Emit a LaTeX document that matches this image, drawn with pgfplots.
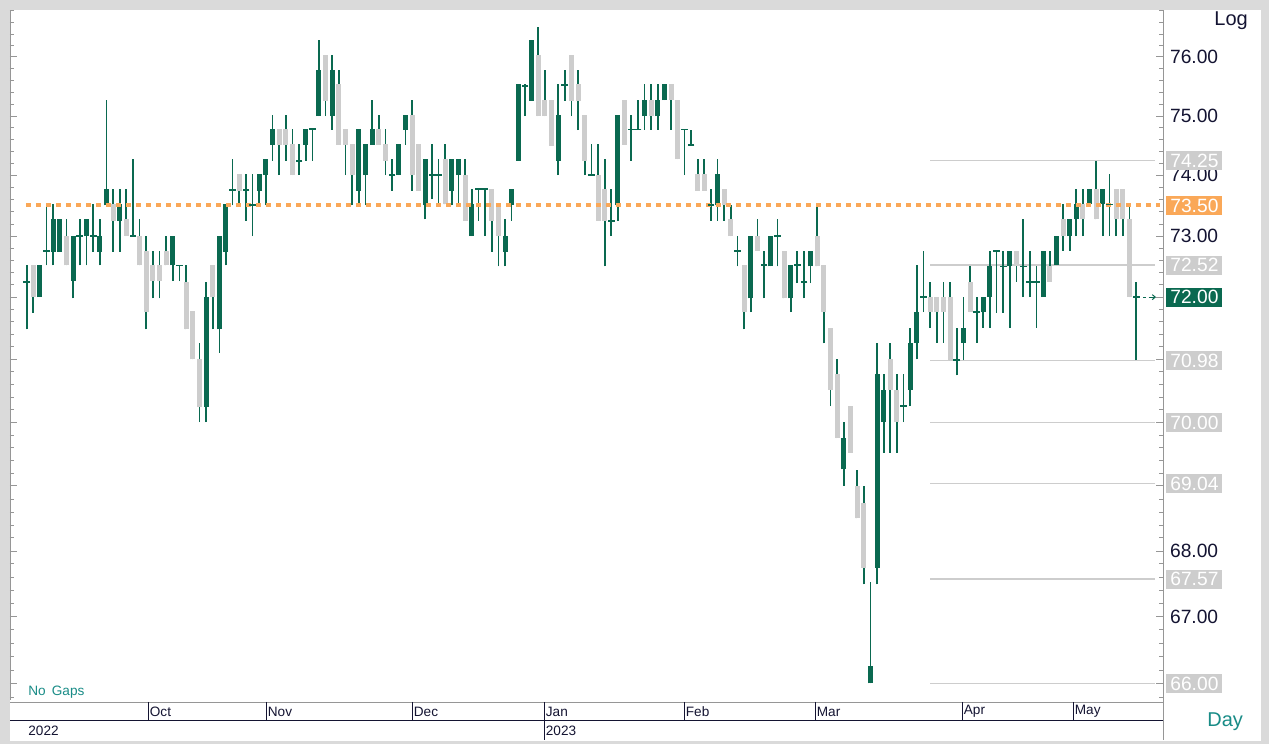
\documentclass[border=0pt]{standalone}
\usepackage{pgfplots}
\pgfplotsset{compat=1.18}
\usepackage{pgfplotstable}
\usepackage{fontspec}
\setmainfont{Liberation Sans}
\usetikzlibrary{arrows.meta}
\definecolor{cgreen}{RGB}{10,105,80}
\definecolor{cgrey}{RGB}{205,205,205}
\definecolor{corange}{RGB}{250,168,88}
\definecolor{cfib}{RGB}{205,205,205}
\definecolor{cborder}{RGB}{218,218,218}
\definecolor{cteal}{RGB}{25,140,135}
\definecolor{cnavy}{RGB}{20,20,50}
\definecolor{caxis}{RGB}{150,150,150}

\pgfplotstableread{
x o h l c
0 72.25 72.52 71.48 72.25
1 72.52 72.52 71.74 72.00
2 72.00 72.52 72.00 72.52
3 72.76 73.49 72.51 72.76
4 72.74 73.52 72.51 73.27
5 72.74 73.27 72.74 73.27
6 73.00 73.27 72.51 72.51
7 72.26 73.00 71.98 73.00
8 73.00 73.27 72.51 73.00
9 73.00 73.27 72.51 73.27
10 73.00 73.52 72.74 73.00
11 72.74 73.27 72.51 73.00
12 73.50 75.27 73.50 73.77
13 73.52 73.77 72.74 73.25
14 73.25 73.77 72.74 73.52
15 73.27 73.77 73.00 73.00
16 73.00 74.27 73.00 73.00
17 73.00 73.27 72.51 72.51
18 72.76 73.00 71.48 71.76
19 72.52 72.76 71.98 72.26
20 72.52 72.76 71.98 72.26
21 72.76 73.00 72.51 72.51
22 72.51 73.00 72.26 73.00
23 72.51 72.52 72.26 72.51
24 72.25 72.52 71.48 71.48
25 71.78 71.78 71.00 71.00
26 71.00 71.26 70.00 70.24
27 70.24 72.25 70.00 72.00
28 72.52 72.52 71.48 72.00
29 71.48 73.00 71.10 73.00
30 72.74 73.52 72.51 73.52
31 73.76 74.27 73.50 73.76
32 74.02 74.02 73.50 73.75
33 73.76 74.02 73.25 73.76
34 73.50 74.02 73.00 73.50
35 73.75 74.02 73.50 74.02
36 74.00 74.27 73.50 74.27
37 74.52 75.02 74.25 74.78
38 74.78 74.78 74.00 74.52
39 74.78 75.02 74.25 74.52
40 74.53 74.78 74.00 74.00
41 74.25 74.53 74.00 74.25
42 74.52 74.78 74.25 74.78
43 74.78 74.78 74.25 74.78
44 75.00 76.29 75.00 75.78
45 76.03 76.03 75.00 75.25
46 75.00 76.03 74.77 75.78
47 75.53 75.78 74.52 74.52
48 74.78 74.78 74.00 74.52
49 74.53 74.53 73.50 74.00
50 73.75 74.78 73.50 74.78
51 74.00 74.53 73.50 74.53
52 74.52 75.27 74.52 74.78
53 74.78 75.02 74.52 74.52
54 74.53 74.78 74.00 74.25
55 74.00 74.27 73.75 74.00
56 74.00 74.53 74.00 74.53
57 74.77 75.02 74.52 75.02
58 75.02 75.27 73.75 74.00
59 74.53 74.53 73.75 73.75
60 73.50 74.27 73.27 74.27
61 74.00 74.53 73.60 74.00
62 74.00 74.27 73.50 74.00
63 74.27 74.53 73.52 73.52
64 73.75 74.27 73.50 74.27
65 74.00 74.27 73.50 74.27
66 74.00 74.27 73.25 73.25
67 73.00 73.77 73.00 73.52
68 73.77 73.77 73.25 73.77
69 73.77 73.77 73.00 73.77
70 73.77 73.77 72.74 73.25
71 73.52 73.52 72.50 73.00
72 72.74 73.27 72.50 73.00
73 73.50 73.77 73.25 73.77
74 74.25 75.53 74.25 75.53
75 75.51 75.53 75.00 75.51
76 75.25 76.29 75.25 76.29
77 76.03 76.52 75.00 75.00
78 75.27 75.78 75.00 75.00
79 75.27 75.27 74.50 74.50
80 74.25 75.53 74.00 75.02
81 75.52 75.78 75.25 75.52
82 76.03 76.03 75.00 75.25
83 75.53 75.78 74.76 75.25
84 75.02 75.02 74.00 74.25
85 74.00 74.53 74.00 74.00
86 74.00 74.53 73.25 73.25
87 73.77 74.27 72.50 73.25
88 73.25 73.77 73.00 73.25
89 73.50 75.02 73.25 75.02
90 75.27 75.27 74.52 74.52
91 74.77 75.02 74.25 74.77
92 74.77 75.27 74.77 74.77
93 75.00 75.53 74.77 75.27
94 75.27 75.53 74.77 75.00
95 75.00 75.53 74.77 75.27
96 75.27 75.53 75.27 75.53
97 75.53 75.53 74.77 75.27
98 75.27 75.27 74.27 74.27
99 74.77 74.77 74.00 74.77
100 74.52 74.77 74.52 74.52
101 74.02 74.27 73.75 73.75
102 74.02 74.27 73.75 73.75
103 73.50 73.77 73.25 73.50
104 73.50 74.27 73.25 74.02
105 73.77 73.77 73.25 73.50
106 73.27 73.50 73.00 73.00
107 72.75 73.00 72.50 72.75
108 72.52 72.52 71.48 71.76
109 71.98 73.00 71.76 73.00
110 73.00 73.27 72.75 72.75
111 72.52 72.75 71.98 72.52
112 72.50 73.00 72.50 73.00
113 73.00 73.27 72.50 73.00
114 72.75 72.75 71.98 71.98
115 71.98 72.52 71.76 72.52
116 72.52 72.75 72.23 72.52
117 72.25 72.75 71.98 72.25
118 72.50 72.75 72.23 72.75
119 73.00 73.50 72.50 72.50
120 72.52 72.52 71.25 71.76
121 71.50 71.50 70.25 70.51
122 70.76 71.00 69.75 69.75
123 69.26 70.00 69.00 69.75
124 70.26 70.26 69.52 69.52
125 69.00 69.25 68.50 68.50
126 68.74 69.00 67.49 67.74
127 66.00 67.52 66.00 66.26
128 67.74 71.26 67.49 70.76
129 70.00 70.76 69.52 70.51
130 71.00 71.26 69.52 70.51
131 70.51 70.76 69.52 70.00
132 70.25 70.76 70.00 70.25
133 70.51 71.50 70.25 71.26
134 71.26 72.52 71.00 71.76
135 72.00 72.76 71.76 72.00
136 72.00 72.25 71.50 71.76
137 72.00 72.00 71.26 71.76
138 72.00 72.25 71.26 71.76
139 72.00 72.25 70.98 70.98
140 70.98 71.50 70.74 70.98
141 71.26 72.00 70.98 71.50
142 72.25 72.50 71.76 71.76
143 71.76 72.00 71.26 71.76
144 71.76 72.00 71.50 72.00
145 72.00 72.76 71.50 72.50
146 72.76 72.76 71.74 72.76
147 72.50 72.76 71.74 72.50
148 72.50 72.76 71.50 72.76
149 72.76 72.76 72.25 72.50
150 72.50 73.27 72.00 72.50
151 72.25 72.76 72.00 72.25
152 72.25 72.50 71.50 72.25
153 72.00 72.76 72.00 72.76
154 72.50 72.76 72.25 72.25
155 72.52 73.00 72.52 73.00
156 73.27 73.52 72.76 73.00
157 73.00 73.27 72.76 73.27
158 73.27 73.77 73.00 73.52
159 73.52 73.77 73.00 73.27
160 73.52 73.77 73.52 73.77
161 73.77 74.25 73.27 73.27
162 73.52 73.77 73.00 73.77
163 73.52 74.02 73.00 73.52
164 73.77 73.77 73.00 73.27
165 73.77 73.77 73.00 73.27
166 73.27 73.52 72.00 72.00
167 72.00 72.25 70.98 72.00
}\candles

\newcommand{\lblfont}{\fontsize{9.6}{10.5}\selectfont}
\newcommand{\datefont}{\fontsize{6.8}{7.5}\selectfont}

\begin{document}
\begin{tikzpicture}[x=0.5pt,y=0.5pt]
\fill[cborder] (0,0) rectangle (1269,744);
\fill[white] (10,3) rectangle (1261,734);
\begin{axis}[
  at={(5pt,22pt)}, anchor=south west,
  scale only axis, width=576.5pt, height=345pt,
  xmin=-2.514, xmax=171.05,
  ymode=log, ymin=65.76, ymax=76.81,
  axis x line=none, axis y line=box,
  axis line style={draw=caxis, line width=0.4pt},
  xtick=\empty,
  ytick={66,67,68,69,70,71,72,73,74,75,76},
  yticklabels={,67.00,68.00,69.00,,,,73.00,74.00,75.00,76.00},
  minor ytick={65.8,66.2,66.4,66.6,66.8,67.2,67.4,67.6,67.8,68.2,68.4,68.6,68.8,69.2,69.4,69.6,69.8,70.2,70.4,70.6,70.8,71.2,71.4,71.6,71.8,72.2,72.4,72.6,72.8,73.2,73.4,73.6,73.8,74.2,74.4,74.6,74.8,75.2,75.4,75.6,75.8,76.2,76.4,76.6,76.8},
  tick align=inside,
  major tick length=3.5pt, minor tick length=2pt,
  every tick/.style={draw=caxis, line width=0.4pt},
  yticklabel pos=right,
  yticklabel style={font=\lblfont, text=cnavy, anchor=west},
]
% Fibonacci-style levels
\addplot[cfib, line width=0.65pt, forget plot] coordinates {(136,74.25) (169.85,74.25)};
\addplot[cfib, line width=0.65pt, forget plot] coordinates {(136,72.52) (169.85,72.52)};
\addplot[cfib, line width=0.65pt, forget plot] coordinates {(136,70.98) (169.85,70.98)};
\addplot[cfib, line width=0.65pt, forget plot] coordinates {(136,70.00) (169.85,70.00)};
\addplot[cfib, line width=0.65pt, forget plot] coordinates {(136,69.04) (169.85,69.04)};
\addplot[cfib, line width=0.65pt, forget plot] coordinates {(136,67.57) (169.85,67.57)};
\addplot[cfib, line width=0.65pt, forget plot] coordinates {(136,66.00) (169.85,66.00)};
% wicks
\addplot[draw=none, mark=none, forget plot,
  error bars/.cd, y dir=plus, y explicit, error mark=none,
  error bar style={draw=cgreen, line width=0.85pt}]
  table[x=x, y=l, y error plus expr=\thisrow{h}-\thisrow{l}] {\candles};
% up bodies
\addplot[draw=none, mark=none, forget plot,
  restrict expr to domain={\thisrow{c}-\thisrow{o}}{0.001:100},
  error bars/.cd, y dir=plus, y explicit, error mark=none,
  error bar style={draw=cgreen, line width=2.5pt}]
  table[x=x, y=o, y error plus expr=\thisrow{c}-\thisrow{o}] {\candles};
% down bodies
\addplot[draw=none, mark=none, forget plot,
  restrict expr to domain={\thisrow{c}-\thisrow{o}}{-100:-0.001},
  error bars/.cd, y dir=plus, y explicit, error mark=none,
  error bar style={draw=cgrey, line width=2.5pt}]
  table[x=x, y=c, y error plus expr=\thisrow{o}-\thisrow{c}] {\candles};
% doji
\addplot[only marks, mark=-, mark size=1.7pt, forget plot,
  mark options={draw=cgreen, line width=0.85pt},
  restrict expr to domain={\thisrow{c}-\thisrow{o}}{-0.001:0.001}]
  table[x=x, y=o] {\candles};
% reference line
\addplot[corange, line width=2pt, dash pattern=on 2.5pt off 2.5pt, forget plot]
  coordinates {(-0.1,73.5) (170.6,73.5)};
\draw[cgreen, line width=0.5pt] (axis cs:168.1,72) -- (axis cs:168.5,72);
\draw[cgreen, line width=0.5pt, -{Straight Barb[length=1.5pt,width=2.5pt]}] (axis cs:168.9,72) -- (axis cs:170.0,72);
\coordinate (L1) at (axis cs:171.05,74.25);
\coordinate (L2) at (axis cs:171.05,73.50);
\coordinate (L3) at (axis cs:171.05,72.52);
\coordinate (L4) at (axis cs:171.05,72.00);
\coordinate (L5) at (axis cs:171.05,70.98);
\coordinate (L6) at (axis cs:171.05,70.00);
\coordinate (L7) at (axis cs:171.05,69.04);
\coordinate (L8) at (axis cs:171.05,67.57);
\coordinate (L9) at (axis cs:171.05,66.00);
\end{axis}
% value boxes
\tikzset{vbox/.style={anchor=west, minimum width=28pt, minimum height=9.5pt, inner sep=0pt, text=white, font=\lblfont, xshift=1.5pt}}
\node[vbox, fill=cgrey] at (L1) {74.25};
\node[vbox, fill=corange] at (L2) {73.50};
\node[vbox, fill=cgrey] at (L3) {72.52};
\node[vbox, fill=cgreen] at (L4) {72.00};
\node[vbox, fill=cgrey] at (L5) {70.98};
\node[vbox, fill=cgrey] at (L6) {70.00};
\node[vbox, fill=cgrey] at (L7) {69.04};
\node[vbox, fill=cgrey] at (L8) {67.57};
\node[vbox, fill=cgrey] at (L9) {66.00};
% date strip
\draw[caxis, line width=0.4pt] (10,42) -- (1163,42);
\draw[cnavy, line width=0.7pt] (10,23.5) -- (1163,23.5);
\draw[caxis, line width=0.4pt] (1163,44) -- (1163,4);
\foreach \mx/\mn in {148/Oct,266/Nov,412/Dec,544/Jan,684/Feb,815/Mar,962/Apr,1073/May}{
  \draw[cnavy, line width=0.4pt] (\mx,42) -- (\mx,23.5);
  \node[anchor=west, inner sep=0pt, font=\datefont, text=cnavy] at (\mx+1.5,32.5) {\mn};
}
\draw[cnavy, line width=0.4pt] (544,23.5) -- (544,4);
\node[anchor=west, inner sep=0pt, font=\datefont, text=cnavy] at (28,13) {2022};
\node[anchor=west, inner sep=0pt, font=\datefont, text=cnavy] at (545.5,13) {2023};
\node[anchor=west, inner sep=0pt, font=\datefont, text=cteal] at (28,52) {No\hspace{0.45em}Gaps};
\node[anchor=west, inner sep=0pt, font=\fontsize{10}{11}\selectfont, text=cnavy] at (1214,723) {Log};
\node[anchor=west, inner sep=0pt, font=\fontsize{10}{11}\selectfont, text=cteal] at (1207,22) {Day};
\end{tikzpicture}
\end{document}
